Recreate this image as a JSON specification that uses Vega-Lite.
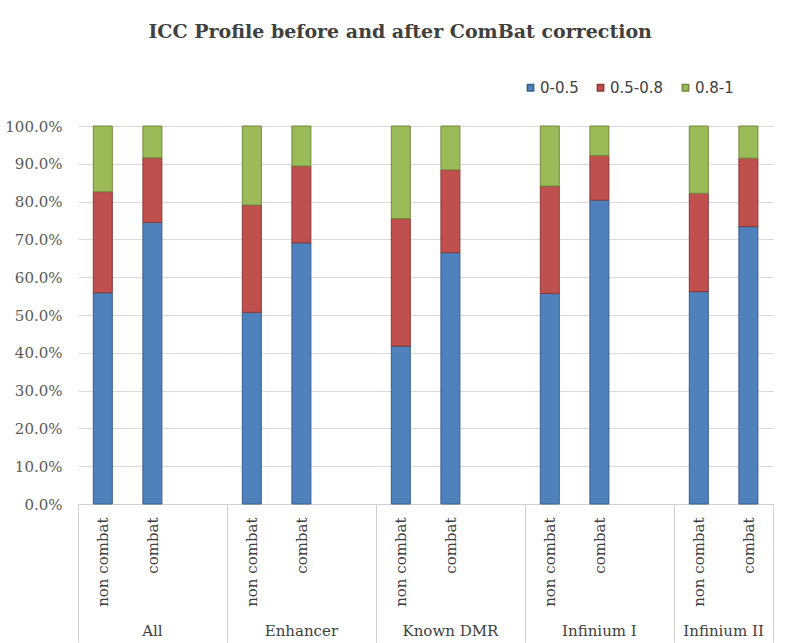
{
  "$schema": "https://vega.github.io/schema/vega-lite/v6.json",
  "padding": {"left": 4, "top": 23, "right": 26, "bottom": 0},
  "background": "white",
  "title": {
    "text": "ICC Profile before and after ComBat correction",
    "font": "DejaVu Serif",
    "fontSize": 19,
    "fontWeight": "bold",
    "color": "#404040",
    "anchor": "middle",
    "frame": "bounds",
    "offset": 38,
    "dx": 11
  },
  "data": {
    "values": [
      {"group": "All", "slot": "nc", "series": "0-0.5", "value": 0.559},
      {"group": "All", "slot": "nc", "series": "0.5-0.8", "value": 0.267},
      {"group": "All", "slot": "nc", "series": "0.8-1", "value": 0.174},
      {"group": "All", "slot": "c", "series": "0-0.5", "value": 0.745},
      {"group": "All", "slot": "c", "series": "0.5-0.8", "value": 0.171},
      {"group": "All", "slot": "c", "series": "0.8-1", "value": 0.084},
      {"group": "All", "slot": "gap", "series": "0-0.5", "value": 0},
      {"group": "Enhancer", "slot": "nc", "series": "0-0.5", "value": 0.507},
      {"group": "Enhancer", "slot": "nc", "series": "0.5-0.8", "value": 0.284},
      {"group": "Enhancer", "slot": "nc", "series": "0.8-1", "value": 0.209},
      {"group": "Enhancer", "slot": "c", "series": "0-0.5", "value": 0.691},
      {"group": "Enhancer", "slot": "c", "series": "0.5-0.8", "value": 0.203},
      {"group": "Enhancer", "slot": "c", "series": "0.8-1", "value": 0.106},
      {"group": "Enhancer", "slot": "gap", "series": "0-0.5", "value": 0},
      {"group": "Known DMR", "slot": "nc", "series": "0-0.5", "value": 0.418},
      {"group": "Known DMR", "slot": "nc", "series": "0.5-0.8", "value": 0.337},
      {"group": "Known DMR", "slot": "nc", "series": "0.8-1", "value": 0.245},
      {"group": "Known DMR", "slot": "c", "series": "0-0.5", "value": 0.665},
      {"group": "Known DMR", "slot": "c", "series": "0.5-0.8", "value": 0.219},
      {"group": "Known DMR", "slot": "c", "series": "0.8-1", "value": 0.116},
      {"group": "Known DMR", "slot": "gap", "series": "0-0.5", "value": 0},
      {"group": "Infinium I", "slot": "nc", "series": "0-0.5", "value": 0.557},
      {"group": "Infinium I", "slot": "nc", "series": "0.5-0.8", "value": 0.284},
      {"group": "Infinium I", "slot": "nc", "series": "0.8-1", "value": 0.159},
      {"group": "Infinium I", "slot": "c", "series": "0-0.5", "value": 0.804},
      {"group": "Infinium I", "slot": "c", "series": "0.5-0.8", "value": 0.118},
      {"group": "Infinium I", "slot": "c", "series": "0.8-1", "value": 0.078},
      {"group": "Infinium I", "slot": "gap", "series": "0-0.5", "value": 0},
      {"group": "Infinium II", "slot": "nc", "series": "0-0.5", "value": 0.562},
      {"group": "Infinium II", "slot": "nc", "series": "0.5-0.8", "value": 0.26},
      {"group": "Infinium II", "slot": "nc", "series": "0.8-1", "value": 0.178},
      {"group": "Infinium II", "slot": "c_end", "series": "0-0.5", "value": 0.734},
      {"group": "Infinium II", "slot": "c_end", "series": "0.5-0.8", "value": 0.181},
      {"group": "Infinium II", "slot": "c_end", "series": "0.8-1", "value": 0.085}
    ]
  },
  "facet": {
    "column": {
      "field": "group",
      "type": "nominal",
      "sort": ["All", "Enhancer", "Known DMR", "Infinium I", "Infinium II"],
      "header": {
        "title": null,
        "labelOrient": "bottom",
        "labelFont": "DejaVu Serif",
        "labelFontSize": 15,
        "labelColor": "#404040",
        "labelPadding": 120
      }
    }
  },
  "spacing": 0,
  "bounds": "flush",
  "resolve": {"scale": {"x": "independent"}},
  "spec": {
    "width": {"step": 49.6},
    "height": 378,
    "mark": {"type": "bar", "width": {"band": 0.383}, "strokeWidth": 1},
    "encoding": {
      "x": {
        "field": "slot",
        "type": "nominal",
        "sort": ["nc", "c", "gap", "c_end"],
        "scale": {"paddingInner": 0, "paddingOuter": 0},
        "axis": {
          "title": null,
          "labelExpr": "datum.value == 'nc' ? 'non combat' : ((datum.value == 'c' || datum.value == 'c_end') ? 'combat' : '')",
          "labelAngle": 270,
          "labelFont": "DejaVu Serif",
          "labelFontSize": 15,
          "labelColor": "#404040",
          "labelPadding": -125,
          "tickBand": "extent",
          "tickSize": 138,
          "tickColor": "#d0d0d0",
          "tickOpacity": {"condition": {"test": "datum.value == 'gap' || datum.value == 'c_end' || datum.index < 0", "value": 1}, "value": 0},
          "domainColor": "#d0d0d0",
          "grid": false
        }
      },
      "y": {
        "field": "value",
        "type": "quantitative",
        "stack": "zero",
        "scale": {"domain": [0, 1]},
        "axis": {
          "title": null,
          "format": ".1%",
          "values": [0, 0.1, 0.2, 0.3, 0.4, 0.5, 0.6, 0.7, 0.8, 0.9, 1],
          "domain": false,
          "ticks": false,
          "labelFont": "DejaVu Serif",
          "labelFontSize": 15,
          "labelColor": "#595959",
          "labelPadding": 16,
          "gridColor": "#d9d9d9"
        }
      },
      "color": {
        "field": "series",
        "type": "nominal",
        "scale": {"domain": ["0-0.5", "0.5-0.8", "0.8-1"], "range": ["#4F81BD", "#C0504D", "#9BBB59"]},
        "legend": {
          "title": null,
          "orient": "none",
          "direction": "horizontal",
          "legendX": 445,
          "legendY": -46,
          "symbolType": "square",
          "symbolSize": 40,
          "labelFont": "DejaVu Sans",
          "labelFontSize": 15,
          "labelColor": "#404040",
          "labelOffset": 2,
          "columnPadding": 14
        }
      },
      "stroke": {
        "field": "series",
        "type": "nominal",
        "scale": {"domain": ["0-0.5", "0.5-0.8", "0.8-1"], "range": ["#385D8A", "#8C3836", "#71893F"]},
        "legend": null
      },
      "strokeOpacity": {
        "condition": {"test": "datum.value == 0", "value": 0},
        "value": 1
      },
      "order": {"field": "series"}
    }
  },
  "config": {"view": {"stroke": null}}
}
